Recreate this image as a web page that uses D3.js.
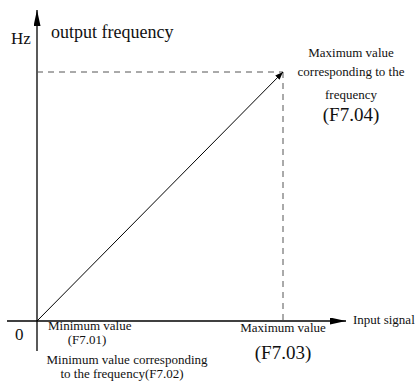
<!DOCTYPE html>
<html>
<head>
<meta charset="utf-8">
<script src="https://cdn.jsdelivr.net/npm/d3@7"></script>
<style>
  body { margin: 0; background: #fff; }
  text { font-family: "Liberation Serif", "Times New Roman", serif; fill: #111; }
</style>
</head>
<body>
<script>
// chart values
var inputRange = [0, 1];      // min .. max input signal
var outputRange = [0, 1];     // frequency for min .. max input
var lineData = [[0, 0], [1, 1]];

var width = 418, height = 384;

var x = d3.scaleLinear().domain(inputRange).range([37, 283]);
var y = d3.scaleLinear().domain(outputRange).range([321, 72]);

var svg = d3.select("body").append("svg")
    .attr("width", width)
    .attr("height", height);

var defs = svg.append("defs");
function marker(id, len, half) {
    defs.append("marker")
        .attr("id", id)
        .attr("viewBox", "0 0 " + len + " " + (half * 2))
        .attr("refX", len)
        .attr("refY", half)
        .attr("markerUnits", "userSpaceOnUse")
        .attr("markerWidth", len)
        .attr("markerHeight", half * 2)
        .attr("orient", "auto")
        .append("path")
        .attr("d", "M0,0L" + len + "," + half + "L0," + (half * 2) + "Z")
        .attr("fill", "#000");
}
marker("arrowAxis", 16, 3.5);
marker("arrowLine", 8, 3);

// axes
svg.append("line")
    .attr("x1", x(0)).attr("y1", 351)
    .attr("x2", x(0)).attr("y2", 10)
    .attr("stroke", "#000").attr("stroke-width", 1.3)
    .attr("marker-end", "url(#arrowAxis)");

svg.append("line")
    .attr("x1", 7).attr("y1", y(0))
    .attr("x2", 346).attr("y2", y(0))
    .attr("stroke", "#000").attr("stroke-width", 1.3)
    .attr("marker-end", "url(#arrowAxis)");

// dashed guides
svg.append("line")
    .attr("x1", x(0)).attr("y1", y(1))
    .attr("x2", x(1)).attr("y2", y(1))
    .attr("stroke", "#555").attr("stroke-width", 1)
    .attr("stroke-dasharray", "6,5");

svg.append("line")
    .attr("x1", x(1)).attr("y1", y(1))
    .attr("x2", x(1)).attr("y2", y(0))
    .attr("stroke", "#555").attr("stroke-width", 1)
    .attr("stroke-dasharray", "6,5");

// the line
var line = d3.line()
    .x(function (d) { return x(d[0]); })
    .y(function (d) { return y(d[1]); });

svg.append("path")
    .datum(lineData)
    .attr("d", line)
    .attr("fill", "none")
    .attr("stroke", "#000")
    .attr("stroke-width", 1)
    .attr("marker-end", "url(#arrowLine)");

// labels
function label(txt, tx, ty, size, anchor) {
    svg.append("text")
        .attr("x", tx).attr("y", ty)
        .attr("font-size", size)
        .attr("text-anchor", anchor || "start")
        .text(txt);
}

var small = 13, big = 19;

label("Hz", 11, 44, 17);
label("output frequency", 51, 38, 18);

label("Maximum value", 351, 57, small, "middle");
label("corresponding to the", 351, 76, small, "middle");
label("frequency", 351, 99, small, "middle");
label("(F7.04)", 351, 121, big, "middle");

label("0", 15, 340, 17);
label("Minimum value", 48, 330, small);
label("(F7.01)", 87, 344, small, "middle");
label("Minimum value corresponding", 127, 364, small, "middle");
label("to the frequency(F7.02)", 122, 378, small, "middle");

label("Maximum value", x(1), 332, small, "middle");
label("(F7.03)", x(1), 359, big, "middle");
label("Input signal", 353, 324, small);
</script>
</body>
</html>
